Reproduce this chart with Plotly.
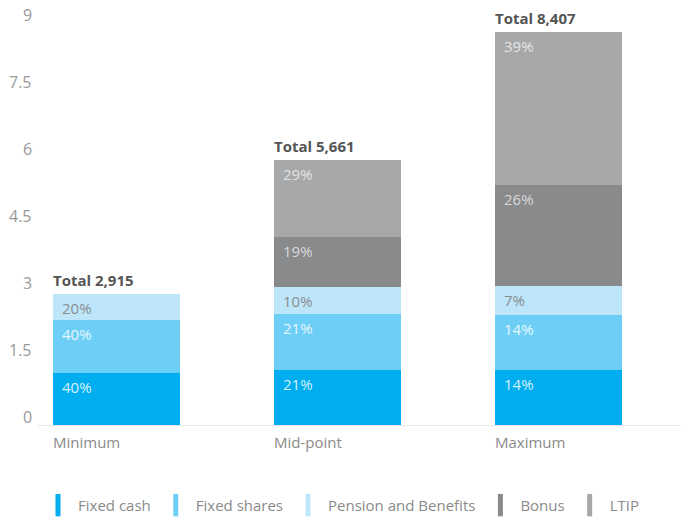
import plotly.graph_objects as go

categories = ["Minimum", "Mid-point", "Maximum"]

# segment heights (in thousands)
fixed_cash = [1.17, 1.24, 1.24]
fixed_shares = [1.17, 1.25, 1.22]
pension = [0.60, 0.61, 0.65]
bonus = [0.0, 1.10, 2.27]
ltip = [0.0, 1.73, 3.41]

# labels printed on the chart
pct_fixed_cash = [40, 21, 14]
pct_fixed_shares = [40, 21, 14]
pct_pension = [20, 10, 7]
pct_bonus = [None, 19, 26]
pct_ltip = [None, 29, 39]
totals = ["2,915", "5,661", "8,407"]

y_ticks = [0, 1.5, 3, 4.5, 6, 7.5, 9]

series = [
    ("Fixed cash", fixed_cash, pct_fixed_cash, "#00AEEF", "#D6F1FC"),
    ("Fixed shares", fixed_shares, pct_fixed_shares, "#6DCFF6", "#E6F7FE"),
    ("Pension and Benefits", pension, pct_pension, "#BDE6FA", "#8A8C8E"),
    ("Bonus", bonus, pct_bonus, "#898A8C", "#D9D9D9"),
    ("LTIP", ltip, pct_ltip, "#A7A8AA", "#E4E4E4"),
]

BAR_W = 0.575
FONT = "Open Sans"

fig = go.Figure()
annotations = []
cum = [0.0] * len(categories)
for name, vals, pcts, color, txtcol in series:
    fig.add_trace(go.Bar(
        x=list(range(len(categories))), y=vals, name=name,
        marker=dict(color=color, line=dict(width=0)),
        width=BAR_W, showlegend=False, hoverinfo="skip",
    ))
    for i, v in enumerate(vals):
        top = cum[i] + v
        if pcts[i] is not None and v > 0:
            annotations.append(dict(
                x=i - BAR_W / 2, y=top, xref="x", yref="y",
                text=f"{pcts[i]}%", showarrow=False,
                xanchor="left", yanchor="top", xshift=7, yshift=-2,
                font=dict(family=FONT, size=15, color=txtcol),
            ))
        cum[i] = top
    # legend swatch (thin vertical bar)
    fig.add_trace(go.Scatter(
        x=[None], y=[None], mode="markers", name=name,
        marker=dict(symbol="line-ns", size=16, color=color,
                    line=dict(color=color, width=5)),
        showlegend=True, hoverinfo="skip",
    ))

for i, cat in enumerate(categories):
    annotations.append(dict(
        x=i - BAR_W / 2, y=cum[i], xref="x", yref="y",
        text=f"<b>Total {totals[i]}</b>", showarrow=False,
        xanchor="left", yanchor="bottom", xshift=-2, yshift=2,
        font=dict(family=FONT, size=15, color="#555555"),
    ))
    annotations.append(dict(
        x=i - BAR_W / 2, y=0, xref="x", yref="y",
        text=cat, showarrow=False,
        xanchor="left", yanchor="top", xshift=-2, yshift=-5,
        font=dict(family=FONT, size=15, color="#8A8A8A"),
    ))

# y-axis tick labels, drawn slightly above their tick positions
for t in y_ticks:
    annotations.append(dict(
        x=0, y=t, xref="paper", yref="y",
        text="%g" % t, showarrow=False,
        xanchor="right", yanchor="middle", xshift=-4, yshift=8,
        font=dict(family=FONT, size=16, color="#999999"),
    ))

fig.update_layout(
    barmode="stack",
    width=689, height=522,
    margin=dict(l=30, r=8, t=15, b=105, autoexpand=False),
    paper_bgcolor="white", plot_bgcolor="white",
    font=dict(family=FONT, size=15, color="#8A8A8A"),
    annotations=annotations,
    legend=dict(
        orientation="h", x=0, y=-0.2, xanchor="left", yanchor="middle",
        traceorder="normal",
        font=dict(family=FONT, size=15, color="#8A8A8A"),
        itemclick=False, itemdoubleclick=False,
    ),
    xaxis=dict(
        range=[-0.355, 2.591], showticklabels=False, showgrid=False,
        zeroline=False, showline=True, linecolor="#E6E6E6", linewidth=1,
        fixedrange=True, automargin=False,
    ),
    yaxis=dict(
        range=[0, 9], tickvals=y_ticks, showticklabels=False,
        showgrid=False, zeroline=False, showline=False,
        fixedrange=True, automargin=False,
    ),
)

fig.write_html("out.html")
